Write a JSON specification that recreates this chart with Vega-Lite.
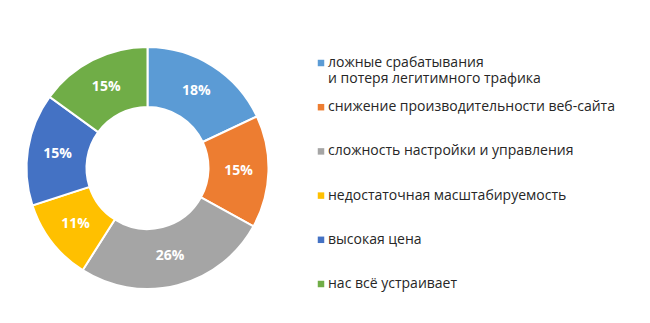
{
  "$schema": "https://vega.github.io/schema/vega-lite/v6.json",
  "width": 285,
  "height": 300,
  "padding": {"left": 5, "top": 18, "right": 5, "bottom": 5},
  "background": "white",
  "config": {"view": {"stroke": null}, "font": "Open Sans"},
  "data": {
    "values": [
      {"idx": 1, "reason": "ложные срабатывания|и потеря легитимного трафика", "share": 0.18},
      {"idx": 2, "reason": "снижение производительности веб-сайта", "share": 0.15},
      {"idx": 3, "reason": "сложность настройки и управления", "share": 0.26},
      {"idx": 4, "reason": "недостаточная масштабируемость", "share": 0.11},
      {"idx": 5, "reason": "высокая цена", "share": 0.15},
      {"idx": 6, "reason": "нас всё устраивает", "share": 0.15}
    ]
  },
  "encoding": {
    "theta": {"field": "share", "type": "quantitative", "stack": true},
    "order": {"field": "idx", "type": "quantitative"}
  },
  "layer": [
    {
      "mark": {"type": "arc", "outerRadius": 121, "innerRadius": 61, "stroke": "white", "strokeWidth": 2},
      "encoding": {
        "color": {
          "field": "reason",
          "type": "nominal",
          "scale": {
            "domain": [
              "ложные срабатывания|и потеря легитимного трафика",
              "снижение производительности веб-сайта",
              "сложность настройки и управления",
              "недостаточная масштабируемость",
              "высокая цена",
              "нас всё устраивает"
            ],
            "range": ["#5B9BD5", "#ED7D31", "#A5A5A5", "#FFC000", "#4472C4", "#70AD47"]
          },
          "legend": {
            "orient": "none",
            "legendX": 309,
            "legendY": 38,
            "title": null,
            "symbolType": "square",
            "symbolSize": 42,
            "symbolStrokeWidth": 0,
            "labelFont": "Open Sans",
            "labelFontSize": 14,
            "labelColor": "#262626",
            "labelOffset": 0,
            "labelLimit": 400,
            "labelLineHeight": 21,
            "gridAlign": "all",
            "rowPadding": 14.2,
            "labelExpr": "split(datum.label, '|')"
          }
        }
      }
    },
    {
      "mark": {"type": "text", "radius": 91, "font": "Open Sans", "fontSize": 14, "fontWeight": "bold", "color": "white"},
      "encoding": {
        "text": {"field": "share", "type": "quantitative", "format": ".0%"}
      }
    }
  ]
}
